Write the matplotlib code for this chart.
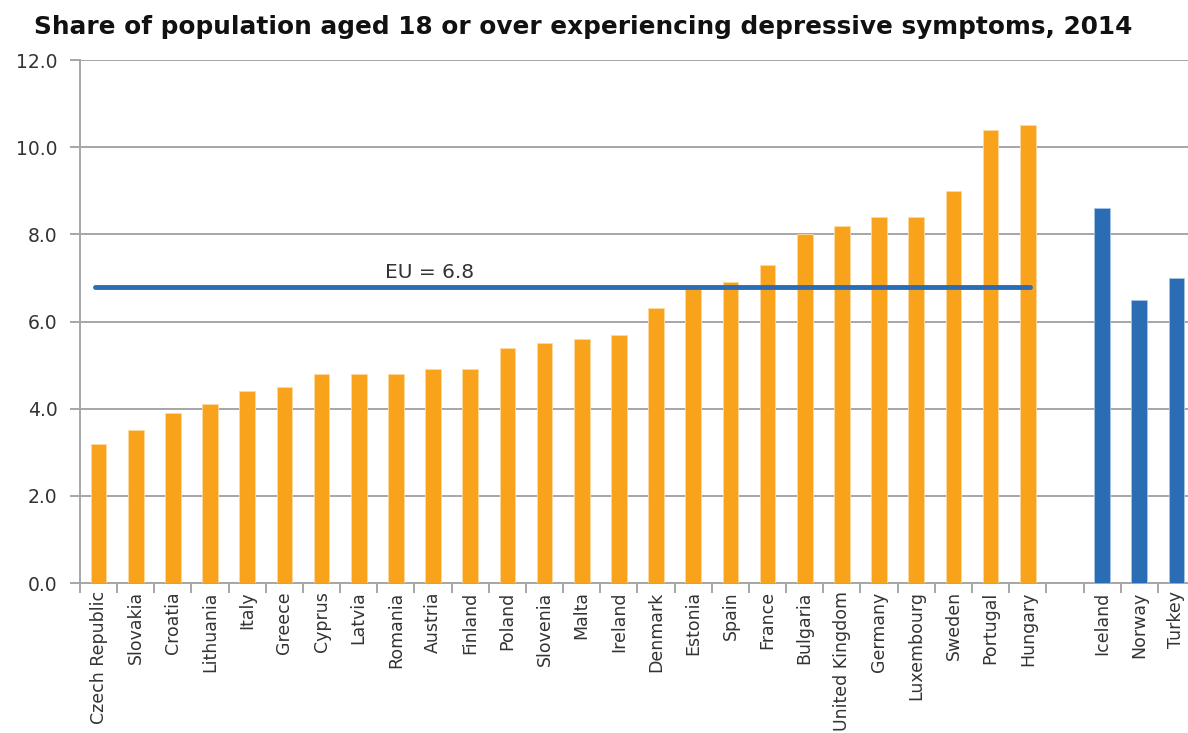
import matplotlib

matplotlib.use("Agg")

import matplotlib.pyplot as plt
import numpy as np

# EU member states (sorted) and the three non-EU countries
eu_countries = [
    "Czech Republic", "Slovakia", "Croatia", "Lithuania", "Italy", "Greece",
    "Cyprus", "Latvia", "Romania", "Austria", "Finland", "Poland", "Slovenia",
    "Malta", "Ireland", "Denmark", "Estonia", "Spain", "France", "Bulgaria",
    "United Kingdom", "Germany", "Luxembourg", "Sweden", "Portugal", "Hungary",
]
eu_values = [
    3.2, 3.5, 3.9, 4.1, 4.4, 4.5, 4.8, 4.8, 4.8, 4.9, 4.9, 5.4, 5.5,
    5.6, 5.7, 6.3, 6.8, 6.9, 7.3, 8.0, 8.2, 8.4, 8.4, 9.0, 10.4, 10.5,
]
other_countries = ["Iceland", "Norway", "Turkey"]
other_values = [8.6, 6.5, 7.0]
eu_average = 6.8
y_ticks = [0, 2, 4, 6, 8, 10, 12]

ORANGE = "#F8A31B"
BLUE = "#2A6DB4"
GRID = "#A6A6A6"
TEXT = "#333333"

n_eu = len(eu_countries)
x_eu = np.arange(n_eu)
x_other = np.arange(len(other_countries)) + n_eu + 1  # one empty slot between groups
n_slots = n_eu + 1 + len(other_countries)

fig = plt.figure(figsize=(11.88, 7.33), dpi=100, facecolor="white")
ax = fig.add_axes([0.0673, 0.2046, 0.9386, 0.7135])

bw = 0.42
ax.bar(x_eu, eu_values, width=bw, color=ORANGE, edgecolor="#FBD9A0", lw=0.6, zorder=3)
ax.bar(x_other, other_values, width=bw, color=BLUE, edgecolor="#A9C4E4", lw=0.6, zorder=3)

# EU average line
ax.plot([-0.1, n_eu - 0.93], [eu_average, eu_average], color=BLUE, lw=3.5,
        solid_capstyle="round", zorder=4)
ax.text(8.9, eu_average + 0.2, f"EU = {eu_average}", ha="center", va="baseline",
        fontsize=14.5, color=TEXT)

ax.set_xlim(-0.5, n_slots - 0.5)
ax.set_ylim(0, 12)
ax.set_yticks(y_ticks)
ax.set_yticklabels([f"{v:.1f}" for v in y_ticks], fontsize=13.5, color=TEXT)
ax.yaxis.grid(True, color=GRID, lw=1.4, zorder=0)
ax.set_axisbelow(True)

# category boundaries carry the tick marks, centres carry the labels
ax.set_xticks(np.arange(n_slots + 1) - 0.5)
ax.set_xticklabels([])
labels = eu_countries + [""] + other_countries
ax.set_xticks(np.arange(n_slots), minor=True)
ax.set_xticklabels(labels, minor=True, rotation=90, fontsize=12.5, color=TEXT)
ax.tick_params(axis="x", which="minor", length=0, pad=6)
ax.tick_params(axis="x", which="major", length=7, width=1.4, color=GRID)
ax.tick_params(axis="y", length=7, width=1.4, color=GRID, pad=9)

for side in ("top", "right"):
    ax.spines[side].set_visible(False)
for side in ("left", "bottom"):
    ax.spines[side].set_color(GRID)
    ax.spines[side].set_linewidth(1.4)

fig.text(0.029, 0.979, "Share of population aged 18 or over experiencing depressive symptoms, 2014",
         fontsize=17.8, fontweight="bold", color="#111111", ha="left", va="top")

fig.savefig("out.png", dpi=100, facecolor="white")
